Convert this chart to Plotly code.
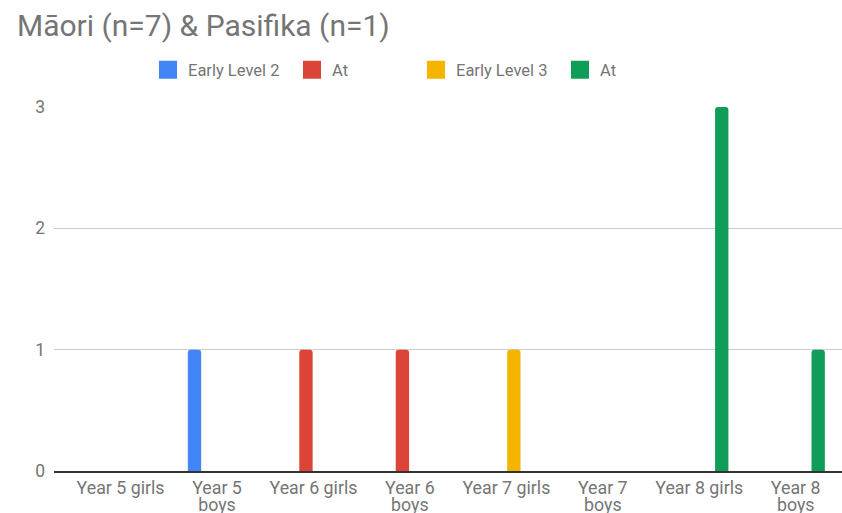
import plotly.graph_objects as go

categories = ["Year 5 girls", "Year 5 boys", "Year 6 girls", "Year 6 boys",
              "Year 7 girls", "Year 7 boys", "Year 8 girls", "Year 8 boys"]
# tick labels, split onto two lines where the category name wraps
tick_line1 = ["Year 5 girls", "Year 5", "Year 6 girls", "Year 6",
              "Year 7 girls", "Year 7", "Year 8 girls", "Year 8"]
tick_line2 = ["", "boys", "", "boys", "", "boys", "", "boys"]

series_names = ["Early Level 2", "At", "Early Level 3", "At"]
series_colors = ["#4285F4", "#DB4437", "#F4B400", "#0F9D58"]
early_level_2 = [0, 1, 0, 0, 0, 0, 0, 0]
at_level_2 = [0, 0, 1, 1, 0, 0, 0, 0]
early_level_3 = [0, 0, 0, 0, 1, 0, 0, 0]
at_level_3 = [0, 0, 0, 0, 0, 0, 3, 1]
series_values = [early_level_2, at_level_2, early_level_3, at_level_3]

y_ticks = [0, 1, 2, 3]

W, H = 842, 513
grey = "#757575"
font = "Roboto"
x_range = [-0.69, 7.48]
positions = list(range(len(categories)))

fig = go.Figure()
for i, (name, color, vals) in enumerate(zip(series_names, series_colors, series_values)):
    fig.add_trace(go.Bar(
        x=positions, y=vals, name=name, marker_color=color,
        marker_line_width=0, showlegend=False,
        customdata=categories, hovertemplate="%{customdata}: %{y}<extra>" + name + "</extra>",
    ))
    # legend proxies with larger square swatches
    fig.add_trace(go.Scatter(
        x=[None], y=[None], mode="markers", name=name,
        marker=dict(symbol="square", size=16, color=color,
                    line=dict(width=2, color=color)),
        legend="legend" if i < 2 else "legend2",
    ))

# empty trace so the second-line label axis is drawn
fig.add_trace(go.Scatter(x=[None], y=[None], xaxis="x2", yaxis="y",
                         showlegend=False, hoverinfo="skip"))

legend_common = dict(orientation="h", xref="container", yref="container",
                     xanchor="left", y=1 - 70 / H, yanchor="middle",
                     entrywidth=99, entrywidthmode="pixels",
                     font=dict(family=font, size=16.5, color=grey),
                     bgcolor="rgba(0,0,0,0)", itemclick=False)

tick_font = dict(family=font, size=17.8, color=grey)

fig.update_layout(
    width=W, height=H,
    margin=dict(l=54, r=0, t=107, b=42),
    paper_bgcolor="white", plot_bgcolor="white",
    barmode="group", bargap=0.378, bargroupgap=0.11,
    barcornerradius=3,
    font=dict(family=font, color=grey, size=17),
    title=dict(text="Māori (n=7) & Pasifika (n=1)", x=17 / W, xanchor="left",
               xref="container", yref="container", y=1 - 25 / H, yanchor="middle",
               font=dict(family=font, size=30, color=grey)),
    legend=dict(x=148 / W, **legend_common),
    legend2=dict(x=416 / W, **legend_common),
    xaxis=dict(type="linear", range=x_range, tickmode="array", tickvals=positions,
               ticktext=tick_line1, showgrid=False, showline=True,
               linecolor="#333333", linewidth=1.5, ticks="", zeroline=False,
               automargin=False, tickfont=tick_font, fixedrange=True),
    # second line of the wrapped tick labels
    xaxis2=dict(type="linear", range=x_range, overlaying="x", anchor="y", side="bottom",
                tickmode="array", tickvals=positions, ticktext=tick_line2,
                ticklabelstandoff=21, showgrid=False, showline=False, ticks="",
                zeroline=False, automargin=False, tickfont=tick_font, fixedrange=True),
    yaxis=dict(range=[0, 3], tickvals=y_ticks, showgrid=True, gridcolor="#cccccc",
               gridwidth=1, zeroline=False, showline=False, ticks="",
               ticklabelstandoff=8, automargin=False,
               tickfont=dict(family=font, size=17.5, color=grey), fixedrange=True),
)

fig.write_html("out.html", config={"displayModeBar": False})
